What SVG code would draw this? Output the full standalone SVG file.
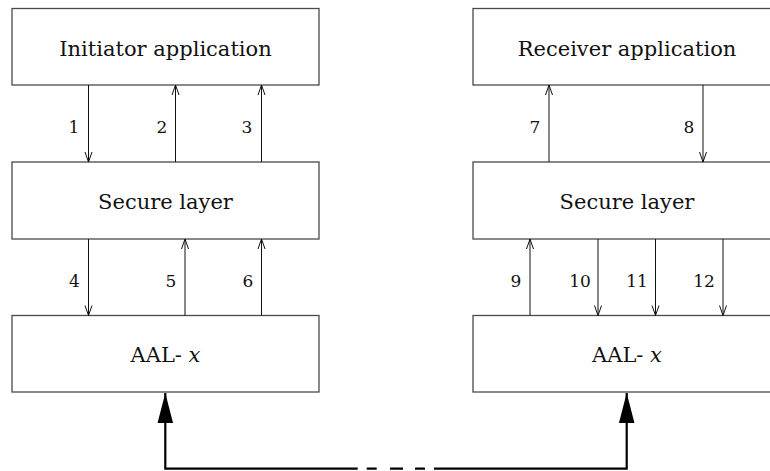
<svg xmlns="http://www.w3.org/2000/svg" width="770" height="471" viewBox="0 0 770 471">
  <style>
    .box { fill: #fff; stroke: #4a4a4a; stroke-width: 1.3; }
    .title { font-family: "DejaVu Serif", "Liberation Serif", serif; font-size: 21px; fill: #111; text-anchor: middle; }
    .num { font-family: "DejaVu Serif", "Liberation Serif", serif; font-size: 17px; fill: #111; text-anchor: middle; }
    .flow { stroke: #111; stroke-width: 1; fill: none; marker-end: url(#open); }
    .link { stroke: #000; stroke-width: 2.2; fill: none; }
  </style>
  <defs>
    <marker id="open" markerUnits="userSpaceOnUse" markerWidth="12" markerHeight="10" refX="0" refY="0" viewBox="-11 -5 12 10" orient="auto" overflow="visible">
      <path d="M-10,-3.5 L0,0 L-10,3.5" fill="none" stroke="#111" stroke-width="1"/>
    </marker>
    <marker id="solid" markerUnits="userSpaceOnUse" markerWidth="32" markerHeight="18" refX="0" refY="0" viewBox="-32 -9 33 18" orient="auto" overflow="visible">
      <path d="M-31,-8 L0,0 L-31,8 Z" fill="#000"/>
    </marker>
  </defs>

  <!-- left stack -->
  <g id="initiator-app">
    <rect class="box" x="12" y="8.5" width="307" height="76.5"/>
    <text class="title" x="165.5" y="56">Initiator application</text>
  </g>
  <g id="initiator-secure">
    <rect class="box" x="12" y="162" width="307" height="77"/>
    <text class="title" x="165.5" y="209">Secure layer</text>
  </g>
  <g id="initiator-aal">
    <rect class="box" x="12" y="315.5" width="307" height="76.5"/>
    <text class="title" x="165.5" y="362">AAL- <tspan font-style="italic">x</tspan></text>
  </g>

  <!-- right stack -->
  <g id="receiver-app">
    <rect class="box" x="473" y="8.5" width="310" height="76.5"/>
    <text class="title" x="627" y="56">Receiver application</text>
  </g>
  <g id="receiver-secure">
    <rect class="box" x="473" y="162" width="310" height="77"/>
    <text class="title" x="627" y="209">Secure layer</text>
  </g>
  <g id="receiver-aal">
    <rect class="box" x="473" y="315.5" width="310" height="76.5"/>
    <text class="title" x="627" y="362">AAL- <tspan font-style="italic">x</tspan></text>
  </g>

  <!-- primitives between layers -->
  <g id="connectors">
    <path class="flow" d="M88.5,85 V162"/>
    <path class="flow" d="M175.5,162 V85"/>
    <path class="flow" d="M261.5,162 V85"/>
    <path class="flow" d="M88.5,239 V315.5"/>
    <path class="flow" d="M185,315.5 V239"/>
    <path class="flow" d="M261.5,315.5 V239"/>

    <path class="flow" d="M549,162 V85"/>
    <path class="flow" d="M703,85 V162"/>
    <path class="flow" d="M530,315.5 V239"/>
    <path class="flow" d="M598,239 V315.5"/>
    <path class="flow" d="M655.5,239 V315.5"/>
    <path class="flow" d="M723,239 V315.5"/>

    <!-- peer link between the two AAL entities -->
    <path class="link" d="M357.7,468.7 H165.3 V393" marker-end="url(#solid)"/>
    <path class="link" d="M434,468.7 H626.7 V393" marker-end="url(#solid)"/>
    <path class="link" d="M366.7,468.7 H376.7 M390,468.7 H403 M415,468.7 H425"/>
  </g>

  <g id="labels">
    <text class="num" x="74" y="133">1</text>
    <text class="num" x="162" y="133">2</text>
    <text class="num" x="247" y="133">3</text>
    <text class="num" x="74.5" y="287">4</text>
    <text class="num" x="171" y="287">5</text>
    <text class="num" x="248" y="287">6</text>
    <text class="num" x="535" y="133">7</text>
    <text class="num" x="689" y="133">8</text>
    <text class="num" x="516" y="287">9</text>
    <text class="num" x="580" y="287">10</text>
    <text class="num" x="637" y="287">11</text>
    <text class="num" x="704" y="287">12</text>
  </g>
</svg>
